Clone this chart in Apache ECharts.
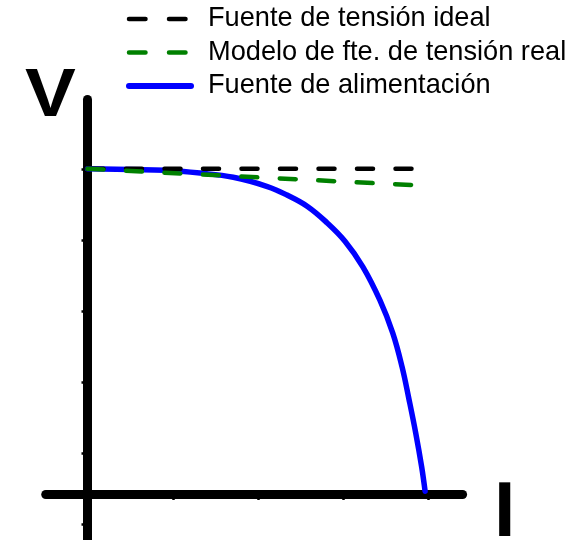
<!DOCTYPE html>
<html>
<head>
<meta charset="utf-8">
<script src="https://cdn.jsdelivr.net/npm/echarts@6/dist/echarts.min.js"></script>
<style>
  html, body { margin: 0; padding: 0; background: #fff; }
  #chart { width: 571px; height: 540px; }
</style>
</head>
<body>
<div id="chart"></div>
<script>
// series names (legend order)
const names = ["Fuente de tensión ideal", "Modelo de fte. de tensión real", "Fuente de alimentación"]

// x = corriente (I), y = tensión (V)
const ideal = [[0, 4.58], [3.83, 4.58]]
const realModel = [[0, 4.58], [3.83, 4.35]]
const supplyI = [0, 0.5, 0.91, 1.32, 1.71, 2.11, 2.34, 2.58, 2.81, 3.02, 3.23, 3.43, 3.58, 3.69, 3.77, 3.85, 3.92, 3.96]
const supplyV = [4.58, 4.57, 4.56, 4.52, 4.46, 4.33, 4.21, 4.05, 3.82, 3.56, 3.2, 2.73, 2.27, 1.79, 1.34, 0.86, 0.38, 0.04]

// tick marks on the axes
const xTicks = [1, 2, 3, 4]
const yTicks = [4.58, 3.58, 2.58, 1.58, 0.58, -0.42]

const supply = supplyI.map((v, i) => [v, supplyV[i]])

const mychart = echarts.init(document.getElementById("chart"))
const font = "'Liberation Sans', Arial, sans-serif"

const dashed = [16, 22.5]
const legendDashed = [16.5, 23.5]

const option = {
  animation: false,
  backgroundColor: "#fff",
  legend: {
    data: [
      { name: names[0], lineStyle: { color: "#000", width: 4.5, type: legendDashed, cap: "round" } },
      { name: names[1], lineStyle: { color: "#008000", width: 4.5, type: legendDashed, cap: "round" } },
      { name: names[2], lineStyle: { color: "#0000ff", width: 6, type: "solid", cap: "round" } }
    ],
    orient: "vertical",
    left: 126,
    top: 5.5,
    padding: 0,
    itemWidth: 62,
    itemHeight: 27,
    itemGap: 6.5,
    itemStyle: { opacity: 0 },
    textStyle: { fontFamily: font, fontSize: 27.2, color: "#000", padding: [0, 0, 0, 12] }
  },
  grid: { left: 45.73, right: 108.4, top: 99.5, bottom: 0, containLabel: false },
  xAxis: {
    type: "value",
    min: -0.49,
    max: 4.4,
    axisLine: { onZero: true, lineStyle: { color: "#000", width: 9, cap: "round" } },
    axisTick: { show: true, customValues: xTicks, length: 6, lineStyle: { color: "#000", width: 2.5 } },
    axisLabel: { show: false },
    splitLine: { show: false }
  },
  yAxis: {
    type: "value",
    min: -0.648,
    max: 5.556,
    axisLine: { show: true, onZero: true, lineStyle: { color: "#000", width: 9, cap: "round" } },
    axisTick: { show: true, customValues: yTicks, length: 6, lineStyle: { color: "#000", width: 2.5 } },
    axisLabel: { show: false },
    splitLine: { show: false }
  },
  graphic: [
    { type: "text", left: 25, top: 63, scaleX: 1.12, style: { text: "V", font: "bold 68px " + font, fill: "#000" } },
    { type: "text", left: 494, top: 476, style: { text: "I", font: "bold 77px " + font, fill: "#000" } }
  ],
  series: [
    {
      name: names[2],
      type: "line",
      smooth: 0.4,
      symbol: "none",
      data: supply,
      lineStyle: { color: "#0000ff", width: 5.5, cap: "round" },
      itemStyle: { color: "#0000ff" }
    },
    {
      name: names[0],
      type: "line",
      symbol: "none",
      data: ideal,
      lineStyle: { color: "#000", width: 4.5, type: dashed, cap: "round" },
      itemStyle: { color: "#000" }
    },
    {
      name: names[1],
      type: "line",
      symbol: "none",
      data: realModel,
      lineStyle: { color: "#008000", width: 4.5, type: dashed, cap: "round" },
      itemStyle: { color: "#008000" }
    }
  ]
}
mychart.setOption(option)
</script>
</body>
</html>
